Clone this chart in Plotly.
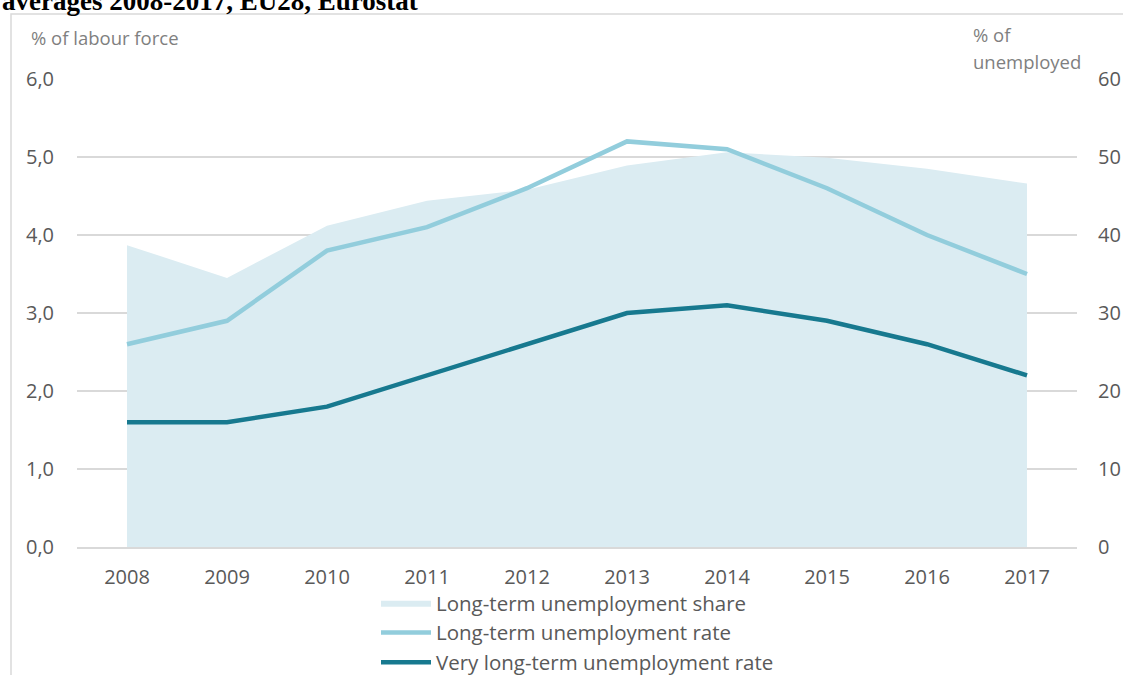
import plotly.graph_objects as go

years = ["2008", "2009", "2010", "2011", "2012", "2013", "2014", "2015", "2016", "2017"]
lt_share = [38.7, 34.5, 41.2, 44.4, 45.8, 48.9, 50.6, 49.9, 48.5, 46.6]
lt_rate = [2.6, 2.9, 3.8, 4.1, 4.6, 5.2, 5.1, 4.6, 4.0, 3.5]
vlt_rate = [1.6, 1.6, 1.8, 2.2, 2.6, 3.0, 3.1, 2.9, 2.6, 2.2]

W, H = 1123, 675
L, R, T, B = 77, 46, 79, 128
PW, PH = W - L - R, H - T - B

def px(x):
    return (x - L) / PW

def py(y):
    return (H - B - y) / PH

TXT = "#595959"
GRID = "#d9d9d9"
FONT = "Open Sans"

fig = go.Figure()
fig.add_trace(go.Scatter(
    x=years, y=lt_share, name="Long-term unemployment share",
    mode="lines", fill="tozeroy", fillcolor="#dbecf2",
    line=dict(width=0, color="#dbecf2"), yaxis="y"))
fig.add_trace(go.Scatter(
    x=years, y=lt_rate, name="Long-term unemployment rate",
    mode="lines", line=dict(width=4.5, color="#92cddc"), yaxis="y2"))
fig.add_trace(go.Scatter(
    x=years, y=vlt_rate, name="Very long-term unemployment rate",
    mode="lines", line=dict(width=4.5, color="#17798f"), yaxis="y2"))

fig.update_layout(
    width=W, height=H,
    margin=dict(l=L, r=R, t=T, b=B, autoexpand=False),
    paper_bgcolor="white", plot_bgcolor="white",
    separators=", ",
    font=dict(family=FONT, size=20, color=TXT),
    xaxis=dict(type="category", range=[-0.5, 9.5], showgrid=False,
               showline=True, linecolor=GRID, linewidth=1.5, ticks="",
               tickfont=dict(size=20, color=TXT), ticklabelstandoff=11),
    yaxis=dict(side="right", range=[0, 60], dtick=10, showgrid=True,
               gridcolor=GRID, gridwidth=1.5, zeroline=False,
               ticks="", tickfont=dict(size=20, color=TXT), ticklabelstandoff=20),
    yaxis2=dict(side="left", overlaying="y", range=[0, 6], dtick=1,
                tickformat=".1f", showgrid=False, zeroline=False,
                ticks="", tickfont=dict(size=20, color=TXT), ticklabelstandoff=22),
    legend=dict(x=px(376), y=py(583), xanchor="left", yanchor="top",
                orientation="v", bgcolor="rgba(0,0,0,0)", itemwidth=50,
                font=dict(family=FONT, size=20.5, color=TXT), traceorder="normal"),
    showlegend=True,
)

fig.add_shape(type="rect", xref="paper", yref="paper",
              x0=px(11), x1=px(1135), y0=py(690), y1=py(14),
              line=dict(color=GRID, width=1.5), fillcolor="rgba(0,0,0,0)", layer="below")

fig.add_annotation(text="averages 2008-2017, EU28, Eurostat", xref="paper", yref="paper",
                   x=px(0), y=py(18), xanchor="left", yanchor="bottom", showarrow=False,
                   font=dict(family="Liberation Serif", size=27, color="black", weight="bold"))
fig.add_annotation(text="% of labour force", xref="paper", yref="paper",
                   x=px(29), y=py(37), xanchor="left", yanchor="middle", showarrow=False,
                   font=dict(family=FONT, size=18.5, color="#7f7f7f"))
fig.add_annotation(text="% of", xref="paper", yref="paper",
                   x=px(971), y=py(35), xanchor="left", yanchor="middle", showarrow=False,
                   font=dict(family=FONT, size=18.5, color="#7f7f7f"))
fig.add_annotation(text="unemployed", xref="paper", yref="paper",
                   x=px(971), y=py(62), xanchor="left", yanchor="middle", showarrow=False,
                   font=dict(family=FONT, size=18.5, color="#7f7f7f"))

fig.write_html("out.html")
